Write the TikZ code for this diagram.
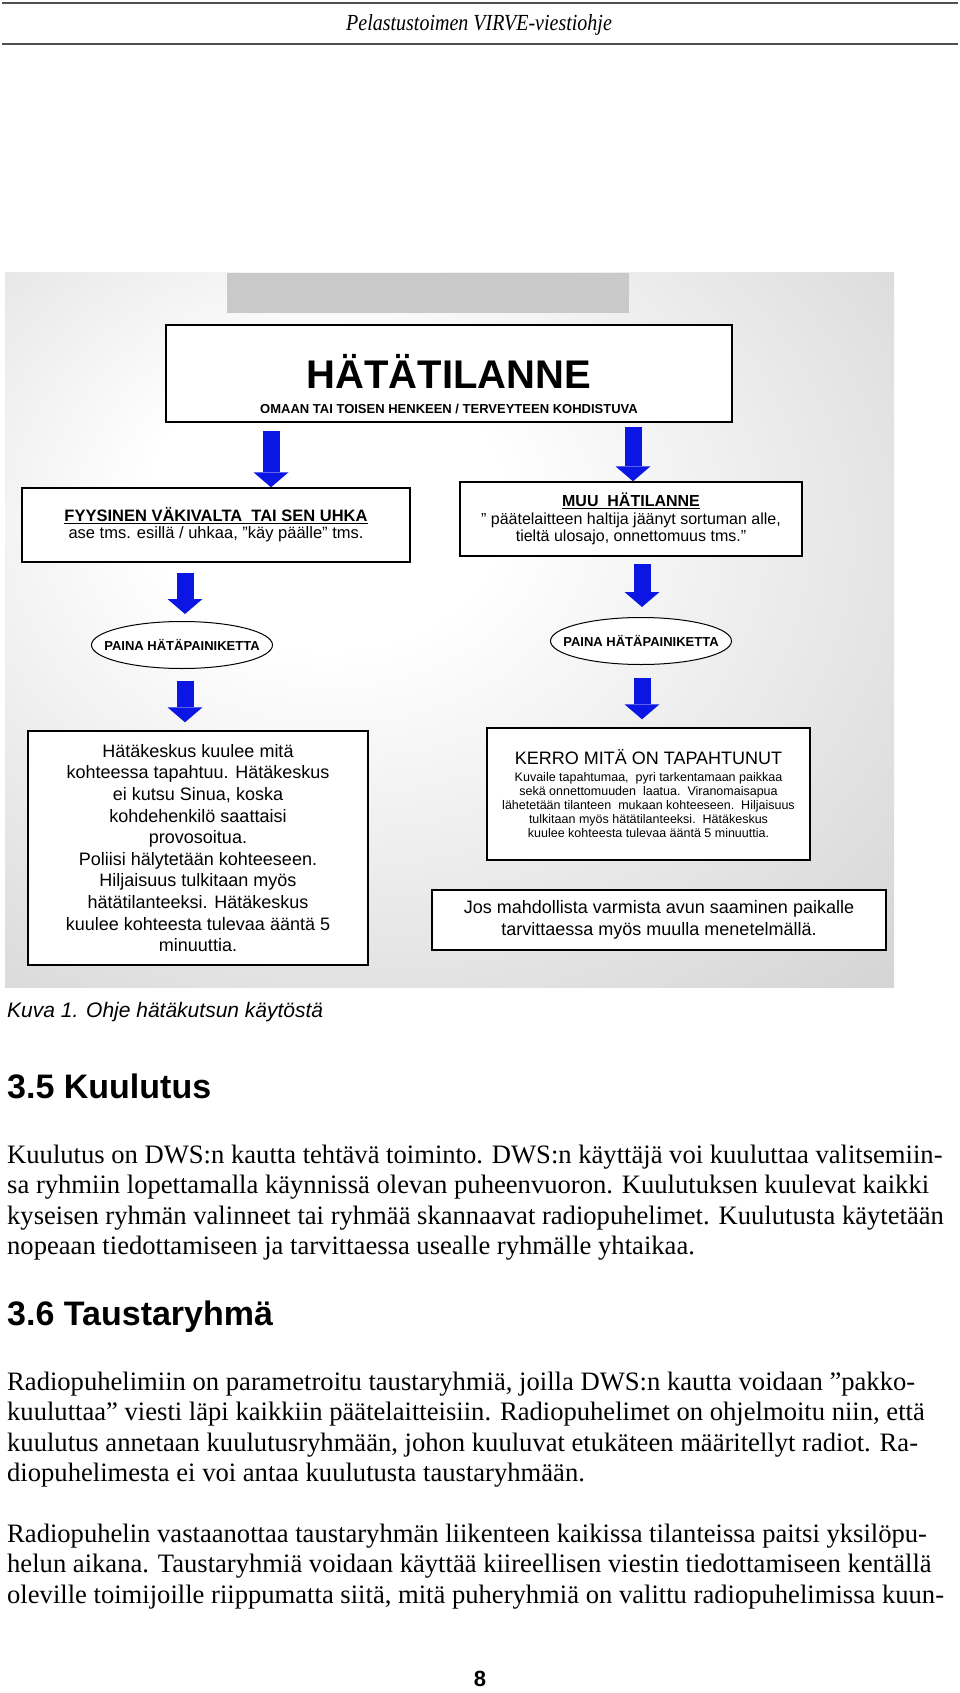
\documentclass[tikz,border=0pt]{standalone}
\usepackage{fontspec}
\setmainfont{Liberation Serif}
\setsansfont{Liberation Sans}
\usepackage{graphicx}
\usetikzlibrary{arrows.meta,shapes.geometric}

\definecolor{arrowblue}{RGB}{12,22,228}
\definecolor{rulegray}{RGB}{80,80,80}
\pgfdeclareradialshading{slidebg}{\pgfpoint{-8bp}{10bp}}{color(0bp)=(white); color(10bp)=(white); color(36bp)=(black!14); color(56bp)=(black!25); color(75bp)=(black!31)}

\begin{document}
\begin{tikzpicture}[
  x=1pt, y=-1pt,
  box/.style={draw, fill=white, line width=1.4pt, align=center, inner sep=0pt},
  oval/.style={ellipse, draw, fill=white, line width=1pt, inner xsep=-20pt, inner ysep=0pt,
    minimum width=181pt, minimum height=47pt, font=\sffamily\bfseries\fontsize{13}{15}\selectfont},
  blockarrow/.style={draw=arrowblue, line width=17pt, -{Triangle[width=35pt,length=15pt,line width=0pt]}},
  bodytext/.style={anchor=base west, inner sep=0pt, font=\fontsize{26.6}{30.5}\selectfont},
  heading/.style={anchor=base west, inner sep=0pt, font=\sffamily\bfseries\fontsize{34}{40}\selectfont}
]
\useasboundingbox (0,0) rectangle (960,1693);

% running head
\draw[rulegray, line width=2.4pt] (2,3) -- (958,3);
\draw[rulegray, line width=2.4pt] (2,44) -- (958,44);
\node[anchor=base, inner sep=0pt, font=\itshape\fontsize{20}{24}\selectfont] (runhead) at (479,31)
  {\scalebox{1}[1.15]{Pelastustoimen VIRVE-viestiohje}};

% the slide
\shade[shading=slidebg] (5,273) rectangle (894,987);
\fill[black!21] (227,273) rectangle (629,313);

\node[box, minimum width=566pt, minimum height=97pt] (hata) at (449,373.5) {};
\node[anchor=base, inner sep=0pt, font=\sffamily\bfseries\fontsize{40}{44}\selectfont] (hatatitle) at (449,388) {HÄTÄTILANNE};
\node[anchor=base, inner sep=0pt, font=\sffamily\bfseries\fontsize{13}{15}\selectfont] (hatasub) at (449,413)
  {OMAAN TAI TOISEN HENKEEN / TERVEYTEEN KOHDISTUVA};

\node[box, minimum width=388pt, minimum height=74pt, font=\sffamily\fontsize{16.5}{17}\selectfont] (fyys) at (216,525)
  {{\bfseries\underline{FYYSINEN VÄKIVALTA\ \ TAI SEN UHKA}}\\ ase tms. esillä / uhkaa, "käy päälle" tms.};
\node[box, minimum width=342pt, minimum height=74pt, font=\sffamily\fontsize{16}{17.5}\selectfont] (muu) at (631,519)
  {{\bfseries\underline{MUU\ \ HÄTILANNE}}\\ " päätelaitteen haltija jäänyt sortuman alle,\\ tieltä ulosajo, onnettomuus tms."};

\node[oval] (paina1) at (182,645) {PAINA HÄTÄPAINIKETTA};
\node[oval] (paina2) at (641,641) {PAINA HÄTÄPAINIKETTA};

\node[box, minimum width=340pt, minimum height=234pt, font=\sffamily\fontsize{18}{21.6}\selectfont] (hkl) at (198,848)
  {Hätäkeskus kuulee mitä\\ kohteessa tapahtuu. Hätäkeskus\\ ei kutsu Sinua, koska\\ kohdehenkilö saattaisi\\
   provosoitua.\\ Poliisi hälytetään kohteeseen.\\ Hiljaisuus tulkitaan myös\\ hätätilanteeksi. Hätäkeskus\\
   kuulee kohteesta tulevaa ääntä 5\\ minuuttia.};
\node[box, minimum width=323pt, minimum height=132pt, font=\sffamily\fontsize{12.5}{14.2}\selectfont] (kerro) at (648.5,794)
  {{\fontsize{18}{20}\selectfont KERRO MITÄ ON TAPAHTUNUT}\\[2pt]
   Kuvaile tapahtumaa,\ \ pyri tarkentamaan paikkaa\\ sekä onnettomuuden\ \ laatua.\ \ Viranomaisapua\\
   lähetetään tilanteen\ \ mukaan kohteeseen.\ \ Hiljaisuus\\ tulkitaan myös hätätilanteeksi.\ \ Hätäkeskus\\
   kuulee kohteesta tulevaa ääntä 5 minuuttia.};
\node[box, minimum width=454pt, minimum height=60pt, font=\sffamily\fontsize{18}{22}\selectfont] (jos) at (659,920)
  {Jos mahdollista varmista avun saaminen paikalle\\ tarvittaessa myös muulla menetelmällä.};

\draw[blockarrow, shorten <=8pt] (hata.south -| 271,0) -- (fyys.north -| 271,0);
\draw[blockarrow, shorten <=4pt] (hata.south -| 633,0) -- (muu.north -| 633,0);
\draw[blockarrow, shorten <=10pt, shorten >=7pt] (fyys.south -| 185,0) -- (paina1.north -| 185,0);
\draw[blockarrow, shorten <=7pt, shorten >=10pt] (muu.south -| 642,0) -- (paina2.north -| 642,0);
\draw[blockarrow, shorten <=12pt, shorten >=8pt] (paina1.south -| 185,0) -- (hkl.north -| 185,0);
\draw[blockarrow, shorten <=13pt, shorten >=8pt] (paina2.south -| 642,0) -- (kerro.north -| 642,0);

% caption and text
\node[anchor=base west, inner sep=0pt, font=\sffamily\itshape\fontsize{21}{25}\selectfont] (kuva) at (7,1017)
  {Kuva 1. Ohje hätäkutsun käytöstä};

\node[heading] (otsikko35) at (7,1098) {3.5 Kuulutus};
\node[bodytext] (kappale1) at (7,1163) {\parbox[t]{955pt}{%
Kuulutus on DWS:n kautta tehtävä toiminto. DWS:n käyttäjä voi kuuluttaa valitsemiin-\\
sa ryhmiin lopettamalla käynnissä olevan puheenvuoron. Kuulutuksen kuulevat kaikki\\
kyseisen ryhmän valinneet tai ryhmää skannaavat radiopuhelimet. Kuulutusta käytetään\\
nopeaan tiedottamiseen ja tarvittaessa usealle ryhmälle yhtaikaa.}};

\node[heading] (otsikko36) at (7,1325) {3.6 Taustaryhmä};
\node[bodytext] (kappale2) at (7,1390) {\parbox[t]{955pt}{%
Radiopuhelimiin on parametroitu taustaryhmiä, joilla DWS:n kautta voidaan ”pakko-\\
kuuluttaa” viesti läpi kaikkiin päätelaitteisiin. Radiopuhelimet on ohjelmoitu niin, että\\
kuulutus annetaan kuulutusryhmään, johon kuuluvat etukäteen määritellyt radiot. Ra-\\
diopuhelimesta ei voi antaa kuulutusta taustaryhmään.}};

\node[bodytext] (kappale3) at (7,1542) {\parbox[t]{955pt}{%
Radiopuhelin vastaanottaa taustaryhmän liikenteen kaikissa tilanteissa paitsi yksilöpu-\\
helun aikana. Taustaryhmiä voidaan käyttää kiireellisen viestin tiedottamiseen kentällä\\
oleville toimijoille riippumatta siitä, mitä puheryhmiä on valittu radiopuhelimissa kuun-}};

\node[anchor=base, inner sep=0pt, font=\sffamily\bfseries\fontsize{22}{26}\selectfont] (sivu) at (480,1686) {8};

\end{tikzpicture}
\end{document}
